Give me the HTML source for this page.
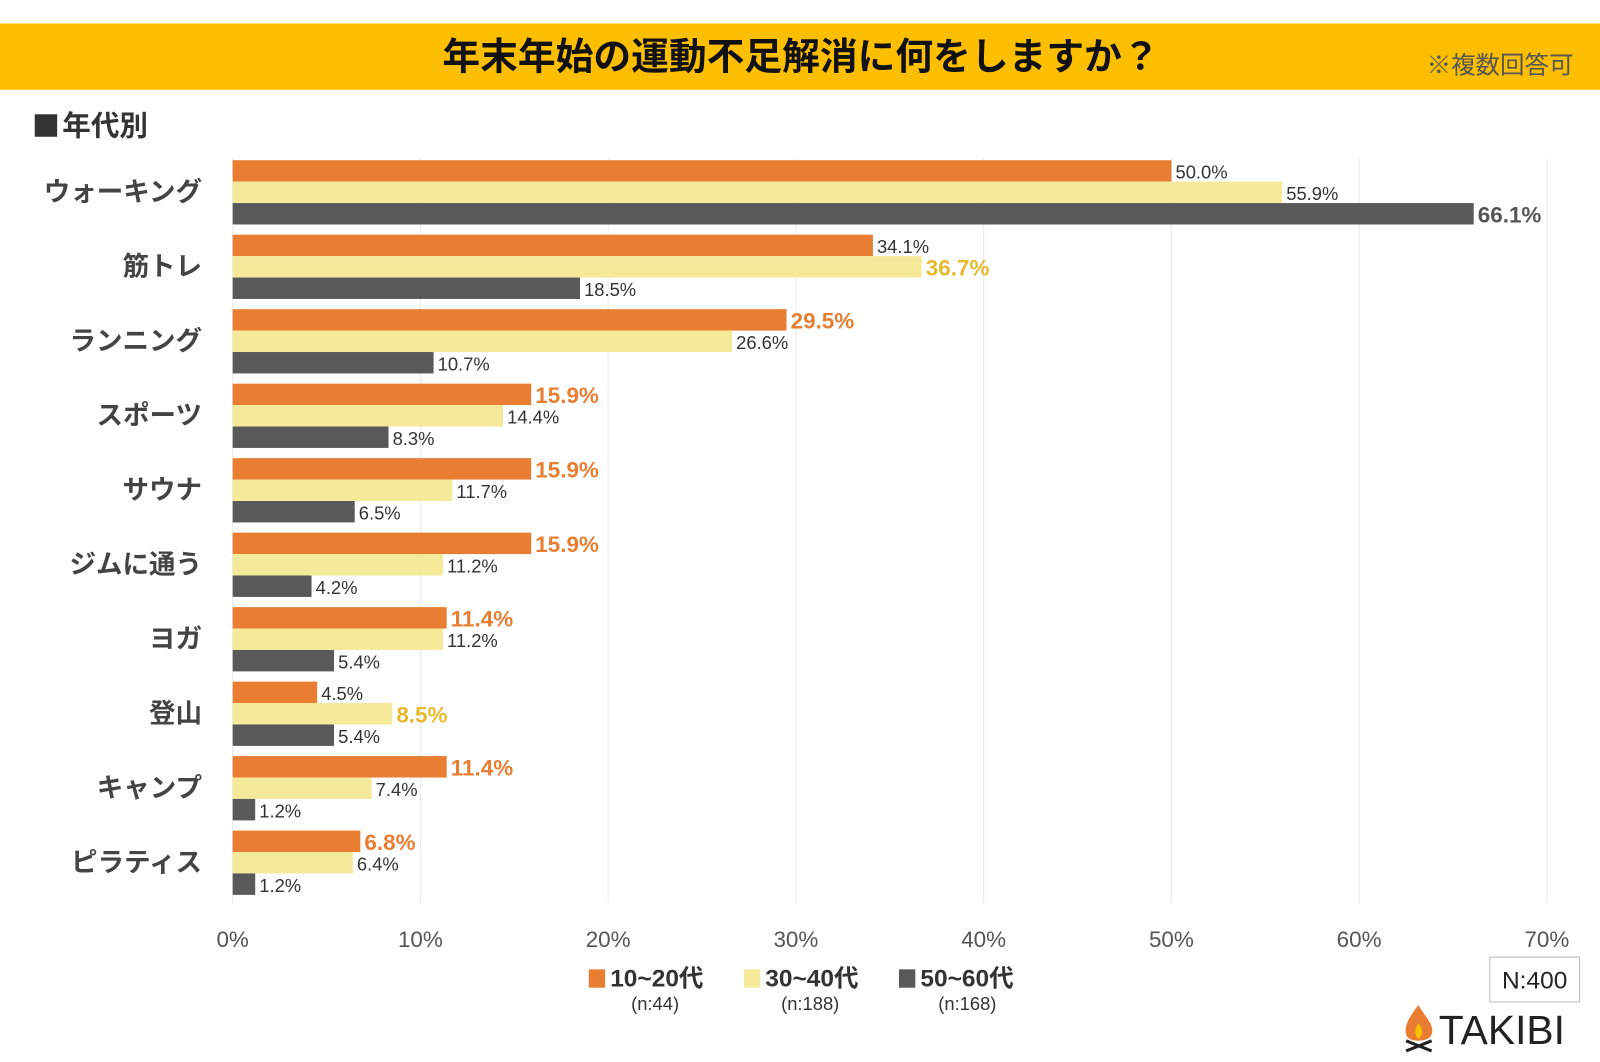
<!DOCTYPE html>
<html><head><meta charset="utf-8"><style>
html,body{margin:0;padding:0;background:#fff;}
svg{display:block;font-family:"Liberation Sans","Noto Sans CJK JP",sans-serif;}
</style></head><body>
<svg id="chart" width="1600" height="1062" viewBox="0 0 1568 1040.8" xmlns="http://www.w3.org/2000/svg">
<rect x="0" y="23" width="1568" height="65" fill="#FBBF00"/>
<text x="785" y="68" text-anchor="middle" font-size="37" font-weight="bold" fill="#111">年末年始の運動不足解消に何をしますか？</text>
<text x="1542" y="72" text-anchor="end" font-size="24" fill="#555">※複数回答可</text>
<rect x="34" y="112" width="22" height="22" fill="#333"/>
<text x="61" y="133" font-size="28" font-weight="bold" fill="#333">年代別</text>
<g id="grid"></g>
<g id="bars"></g>
<g id="labels"></g>
<g id="ticks"></g>
<g>
 <rect x="577" y="950" width="16" height="18" fill="#E97E32"/>
 <text x="598" y="967" font-size="24" font-weight="bold" fill="#333">10~20代</text>
 <text x="642" y="990" text-anchor="middle" font-size="18" fill="#333">(n:44)</text>
 <rect x="729" y="950" width="16" height="18" fill="#F5E99A"/>
 <text x="750" y="967" font-size="24" font-weight="bold" fill="#333">30~40代</text>
 <text x="794" y="990" text-anchor="middle" font-size="18" fill="#333">(n:188)</text>
 <rect x="881" y="950" width="16" height="18" fill="#595959"/>
 <text x="902" y="967" font-size="24" font-weight="bold" fill="#333">50~60代</text>
 <text x="948" y="990" text-anchor="middle" font-size="18" fill="#333">(n:168)</text>
</g>
<rect x="1460" y="938" width="88" height="44" fill="#fff" stroke="#bbb"/>
<text x="1504" y="969" text-anchor="middle" font-size="24" fill="#222">N:400</text>
<g>
 <path d="M1390 985 C1380 998 1376 1006 1378 1014 C1380 1022 1400 1022 1403 1014 C1406 1005 1398 998 1390 985 Z" fill="#E97E32"/>
 <path d="M1390 1003 C1386 1009 1386 1015 1390 1018 C1395 1015 1395 1009 1390 1003 Z" fill="#FBBF00"/>
 <path d="M1378 1030 L1403 1020 M1378 1020 L1403 1030" stroke="#222" stroke-width="3"/>
 <text x="1410" y="1023" font-size="40" fill="#222">TAKIBI</text>
</g>
<script>
const categories=["ウォーキング","筋トレ","ランニング","スポーツ","サウナ","ジムに通う","ヨガ","登山","キャンプ","ピラティス"];
const s1020=[50.0,34.1,29.5,15.9,15.9,15.9,11.4,4.5,11.4,6.8];
const s3040=[55.9,36.7,26.6,14.4,11.7,11.2,11.2,8.5,7.4,6.4];
const s5060=[66.1,18.5,10.7,8.3,6.5,4.2,5.4,5.4,1.2,1.2];
const tickValues=[0,10,20,30,40,50,60,70];
const NS="http://www.w3.org/2000/svg";
const x0=228,pxPer=18.4,groupTop=157,pitch=73,barH=21;
const xs=v=>x0+v*pxPer;
function el(tag,attrs,parent){const e=document.createElementNS(NS,tag);for(const k in attrs)e.setAttribute(k,attrs[k]);parent.appendChild(e);return e;}
const grid=document.getElementById('grid'),bars=document.getElementById('bars'),labels=document.getElementById('labels'),ticks=document.getElementById('ticks');
tickValues.forEach(t=>{
 const l=el('line',{x1:xs(t),x2:xs(t),y1:155,y2:885,stroke:'#e8e8e8','stroke-width':1},grid);
 
 
 const tx=el('text',{x:xs(t),y:928,'text-anchor':'middle','font-size':22,fill:'#555'},ticks);
 tx.textContent=t+'%';
 
 
});
const series=[{d:s1020,c:'#E97E32',hc:'#E97E32',n:'10-20'},{d:s3040,c:'#F5E99A',hc:'#E6B92E',n:'30-40'},{d:s5060,c:'#595959',hc:'#555555',n:'50-60'}];
categories.forEach((cat,i)=>{
 const gy=groupTop+i*pitch;
 const lb=el('text',{x:198,y:gy+40,'text-anchor':'end','font-size':26,'font-weight':'bold',fill:'#444'},labels);
 lb.textContent=cat;
 
 
 const mx=Math.max(s1020[i],s3040[i],s5060[i]);
 series.forEach((s,j)=>{
  const v=s.d[i],y=gy+j*barH;
  const r=el('rect',{x:x0,y:y,width:xs(v)-x0,height:barH,fill:s.c},bars);
  
  
  const hi=v===mx;
  const t=el('text',{x:xs(v)+4,y:y+(hi?19:18),'font-size':hi?22:18,'font-weight':hi?'bold':'normal',fill:hi?s.hc:'#333'},bars);
  t.textContent=v.toFixed(1)+'%';
  
  
 });
});
</script>
</svg>
</body></html>
